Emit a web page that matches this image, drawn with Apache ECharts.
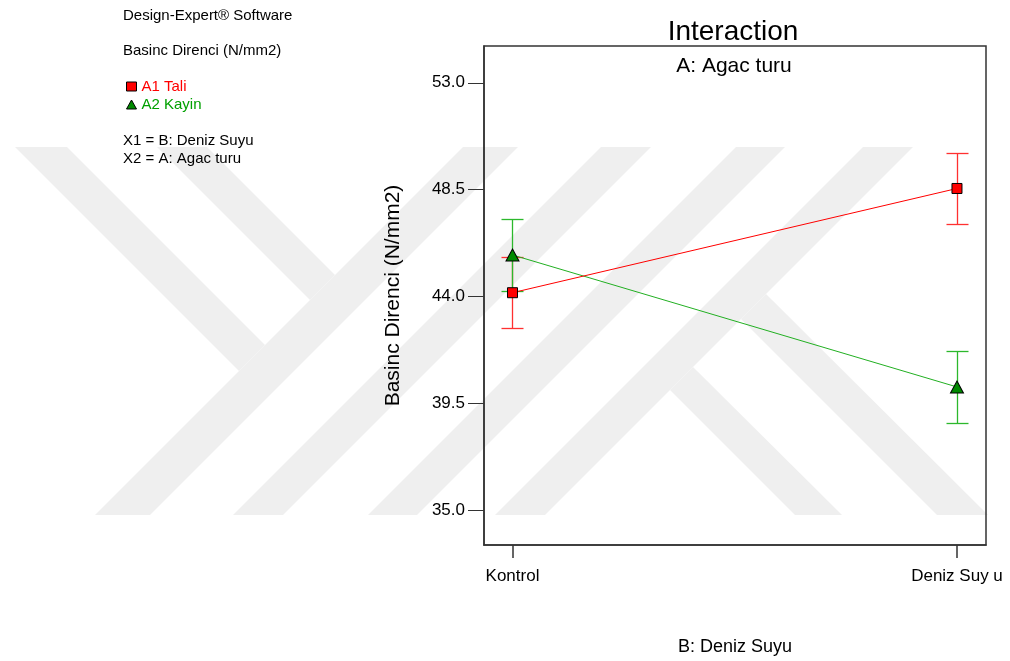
<!DOCTYPE html>
<html>
<head>
<meta charset="utf-8">
<script src="https://cdn.jsdelivr.net/npm/echarts@6/dist/echarts.min.js"></script>
<style>
html,body{margin:0;padding:0;background:#fff;}
#chart{width:1010px;height:661px;}
</style>
</head>
<body>
<div id="chart"></div>
<script>
// kategoriler (B: Deniz Suyu)
var categories = ['Kontrol', 'Deniz Suy u'];
var xPos = [0, 1];
// A: Agac turu
var a1Tali = [44.16, 48.55];
var a2Kayin = [45.75, 40.19];
// LSD hata cubuklari (yarim genislik)
var a1Err = [1.50, 1.51];
var a2Err = [1.52, 1.52];
// eksen etiketleri
var yTicks = [35.0, 39.5, 44.0, 48.5, 53.0];

var FONT = '"Liberation Sans", Arial, sans-serif';
var chart = echarts.init(document.getElementById('chart'));

function pts(vals){
	var out = [];
	for (var i = 0; i < vals.length; i++) out.push([xPos[i], vals[i]]);
	return out;
}
function errPts(vals, err){
	var out = [];
	for (var i = 0; i < vals.length; i++) out.push([xPos[i], vals[i] - err[i], vals[i] + err[i]]);
	return out;
}
function errRender(color){
	return function(params, api){
		var lo = api.coord([api.value(0), api.value(1)]);
		var hi = api.coord([api.value(0), api.value(2)]);
		var x = Math.round(lo[0]) + 0.5;
		var y1 = Math.round(lo[1]) + 0.5, y2 = Math.round(hi[1]) + 0.5;
		var st = function(){ return {stroke: color, lineWidth: 1.3}; };
		return {type: 'group', children: [
			{type: 'line', z2: 5, shape: {x1: x, y1: y1, x2: x, y2: y2}, style: st()},
			{type: 'line', z2: 5, shape: {x1: x - 11, y1: y1, x2: x + 11, y2: y1}, style: st()},
			{type: 'line', z2: 5, shape: {x1: x - 11, y1: y2, x2: x + 11, y2: y2}, style: st()}
		]};
	};
}

// arka plan filigrani
function band(p){ return {type: 'polygon', z: -10, silent: true, shape: {points: p}, style: {fill: '#efefef'}}; }
var wm = [
	band([[15,147],[67,147],[265,345],[239,371]]),
	band([[157,147],[207,147],[335,275],[310,300]]),
	band([[95,515],[150,515],[518,147],[463,147]]),
	band([[233,515],[283,515],[651,147],[601,147]]),
	band([[368,515],[417,515],[785,147],[736,147]]),
	band([[495,515],[545,515],[913,147],[863,147]]),
	band([[670,390],[693,367],[842,515],[795,515]]),
	band([[741,319],[766,294],[988,515],[937,515]])
];
function txt(t, x, y){
	return {type: 'text', x: x, y: y, style: {text: t, fill: '#000', font: '15px ' + FONT, textVerticalAlign: 'middle'}};
}
var side = [
	txt('Design-Expert® Software', 123, 16),
	txt('Basinc Direnci (N/mm2)', 123, 51),
	txt('X1 = B: Deniz Suyu', 123, 141),
	txt('X2 = A: Agac turu', 123, 159)
];

var option = {
	backgroundColor: '#fff',
	animation: false,
	textStyle: {fontFamily: FONT},
	title: [
		{text: 'Interaction', left: 733, top: 18, padding: 0, textAlign: 'center',
			textStyle: {fontSize: 28, fontWeight: 'normal', color: '#000', fontFamily: FONT}},
		{text: 'A: Agac turu', left: 734, top: 56, padding: 0, textAlign: 'center',
			textStyle: {fontSize: 21, fontWeight: 'normal', color: '#000', fontFamily: FONT}}
	],
	legend: {
		orient: 'vertical', left: 126, top: 79, padding: 0,
		itemWidth: 10, itemHeight: 9, itemGap: 3,
		itemStyle: {borderColor: '#000', borderWidth: 1},
		textStyle: {fontSize: 15, fontFamily: FONT},
		data: [
			{name: 'A1 Tali', icon: 'rect', textStyle: {color: '#ff0000'}},
			{name: 'A2 Kayin', icon: 'triangle', textStyle: {color: '#00a000'}}
		]
	},
	graphic: wm.concat(side),
	grid: {left: 484, top: 46, width: 502, height: 502, show: true, borderColor: '#333', borderWidth: 1.5},
	xAxis: {
		type: 'value', min: -0.0641, max: 1.0653,
		name: 'B: Deniz Suyu', nameLocation: 'middle', nameGap: 93,
		nameTextStyle: {fontSize: 18, color: '#000'},
		axisLine: {onZero: false, lineStyle: {color: '#333', width: 1.5}},
		axisTick: {customValues: xPos, length: 13, lineStyle: {color: '#333', width: 1.5}},
		axisLabel: {customValues: xPos, margin: 23, fontSize: 17, color: '#000',
			formatter: function(v){ return categories[Math.round(v)]; }},
		splitLine: {show: false}
	},
	yAxis: {
		type: 'value', min: 33.535, max: 54.55,
		name: 'Basinc Direnci (N/mm2)', nameLocation: 'middle', nameGap: 80,
		nameTextStyle: {fontSize: 21, color: '#000'},
		axisLine: {onZero: false, lineStyle: {color: '#333', width: 1.5}},
		axisTick: {customValues: yTicks, length: 16, lineStyle: {color: '#333', width: 1}},
		axisLabel: {customValues: yTicks, margin: 19, fontSize: 17, color: '#000',
			formatter: function(v){ return v.toFixed(1); }},
		splitLine: {show: false}
	},
	series: [
		{type: 'custom', renderItem: errRender('#ff3030'), data: errPts(a1Tali, a1Err), z: 2, silent: true,
			itemStyle: {color: '#ff3030'}},
		{type: 'custom', renderItem: errRender('#2cb82c'), data: errPts(a2Kayin, a2Err), z: 2, silent: true,
			itemStyle: {color: '#2cb82c'}},
		{name: 'A1 Tali', type: 'line', data: pts(a1Tali), z: 4,
			symbol: 'rect', symbolSize: 10,
			lineStyle: {color: '#ff0000', width: 1},
			itemStyle: {color: '#ff0000', borderColor: '#000', borderWidth: 1}},
		{name: 'A2 Kayin', type: 'line', data: pts(a2Kayin), z: 3,
			symbol: 'triangle', symbolSize: [13, 12],
			lineStyle: {color: '#22b022', width: 1},
			itemStyle: {color: '#008a00', borderColor: '#000', borderWidth: 1}}
	]
};
chart.setOption(option);
</script>
</body>
</html>
